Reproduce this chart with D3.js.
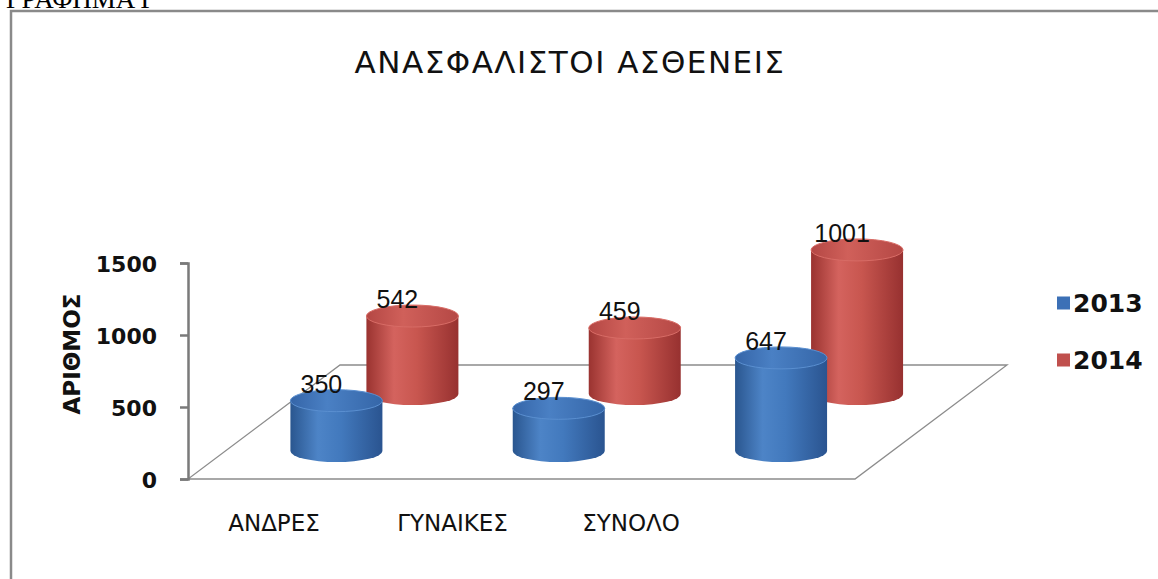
<!DOCTYPE html>
<html>
<head>
<meta charset="utf-8">
<script src="https://cdn.jsdelivr.net/npm/d3@7"></script>
<style>
	body { margin: 0; background: #fff; }
	svg { display: block; }
	.tick text { font-family: "DejaVu Sans", sans-serif; font-weight: bold; font-size: 22px; fill: #111; }
</style>
</head>
<body>
<svg id="chart" width="1158" height="579"></svg>
<script>
var categories = ["ΑΝΔΡΕΣ", "ΓΥΝΑΙΚΕΣ", "ΣΥΝΟΛΟ"];
var seriesNames = ["2013", "2014"];
var values2013 = [350, 297, 647];
var values2014 = [542, 459, 1001];
var yTicks = [0, 500, 1000, 1500];
var seriesColours = ["#3c70b6", "#c0504d"];

var svg = d3.select("#chart");

//page heading, mostly cut off at the top (as in the scanned page)
svg.append("text")
	.attr("x", 6).attr("y", 8)
	.attr("font-family", "Liberation Serif, serif")
	.attr("font-size", 27)
	.attr("fill", "#000")
	.text("ΓΡΑΦΗΜΑ Γ");

//chart frame (runs off the right and bottom edge)
svg.append("rect")
	.attr("x", 11).attr("y", 11)
	.attr("width", 1160).attr("height", 580)
	.attr("fill", "#fff")
	.attr("stroke", "#8a8a8a")
	.attr("stroke-width", 2.5);

var x = d3.scaleBand().domain(categories).range([188, 855]),
	y = d3.scaleLinear().domain([0, 1500]).range([479, 263]),
	//depth of each series row on the floor (0 = front, 1 = back)
	row = d3.scalePoint().domain(seriesNames).range([0.245, 0.745]),
	depthX = 152, depthY = -114,
	labelX = d3.scalePoint().domain(categories).range([274, 631]);

var defs = svg.append("defs");
function addGradient(id, stops){
	var g = defs.append("linearGradient").attr("id", id)
		.attr("x1", "0%").attr("x2", "100%").attr("y1", "0%").attr("y2", "0%");
	stops.forEach(function(s){
		g.append("stop").attr("offset", s[0]).attr("stop-color", s[1]);
	});
}
addGradient("body0", [["0%", "#2a568f"], ["30%", "#4d84c7"], ["55%", "#4279bd"], ["100%", "#2a5490"]]);
addGradient("top0", [["0%", "#3565a8"], ["40%", "#4a80c4"], ["100%", "#3566a8"]]);
addGradient("body1", [["0%", "#9a3330"], ["30%", "#d4635e"], ["55%", "#c8564f"], ["100%", "#973130"]]);
addGradient("top1", [["0%", "#b44744"], ["40%", "#d0605a"], ["100%", "#b54845"]]);

//floor
var y0 = y(0), xl = x.range()[0], xr = x.range()[1];
svg.append("path")
	.attr("d", "M" + xl + "," + y0 + "L" + xr + "," + y0 +
		"L" + (xr + depthX) + "," + (y0 + depthY) +
		"L" + (xl + depthX) + "," + (y0 + depthY) + "Z")
	.attr("fill", "none")
	.attr("stroke", "#8c8c8c")
	.attr("stroke-width", 1.3);

//value axis
var axis = svg.append("g")
	.attr("transform", "translate(" + xl + ",0)")
	.call(d3.axisLeft(y).tickValues(yTicks).tickFormat(d3.format("d"))
		.tickSize(8).tickPadding(23));
axis.select(".domain").attr("stroke", "#7a7a7a").attr("stroke-width", 2.5);
axis.selectAll(".tick line").attr("stroke", "#7a7a7a").attr("stroke-width", 2.5);
axis.selectAll(".tick text").attr("dy", "0.4em");

svg.append("text")
	.attr("transform", "translate(80,354) rotate(-90)")
	.attr("text-anchor", "middle")
	.attr("font-family", "DejaVu Sans, sans-serif")
	.attr("font-weight", "bold")
	.attr("font-size", 23)
	.attr("fill", "#111")
	.text("ΑΡΙΘΜΟΣ");

//build cylinders, back row first
var rx = 46, ry = 11;
var bars = [];
[values2014, values2013].forEach(function(vals, k){
	var s = seriesNames[1 - k];
	vals.forEach(function(v, i){
		var f = row(s),
			cx = x(categories[i]) + x.bandwidth() / 2 + depthX * f,
			base = y0 + depthY * f,
			top = base - (y0 - y(v));
		bars.push({s: 1 - k, v: v, cx: cx, base: base, top: top});
	});
});

var cyl = svg.selectAll(".cyl").data(bars).enter()
	.append("g").attr("class", "cyl");
cyl.append("path")
	.attr("d", function(d){
		return "M" + (d.cx - rx) + "," + d.top + "L" + (d.cx - rx) + "," + d.base +
			"A" + rx + "," + ry + " 0 0 0 " + (d.cx + rx) + "," + d.base +
			"L" + (d.cx + rx) + "," + d.top + "Z";
	})
	.attr("fill", function(d){ return "url(#body" + d.s + ")"; });
cyl.append("ellipse")
	.attr("cx", function(d){ return d.cx; })
	.attr("cy", function(d){ return d.top; })
	.attr("rx", rx).attr("ry", ry)
	.attr("fill", function(d){ return "url(#top" + d.s + ")"; })
	.attr("stroke", function(d){ return d.s ? "#d86c66" : "#5a8fd0"; })
	.attr("stroke-width", 1);

//value labels
svg.selectAll(".vlabel").data(bars).enter()
	.append("text").attr("class", "vlabel")
	.attr("x", function(d){ return d.cx - 15; })
	.attr("y", function(d){ return d.top - 8; })
	.attr("text-anchor", "middle")
	.attr("font-family", "Liberation Sans, Arial, sans-serif")
	.attr("font-size", 25)
	.attr("fill", "#111")
	.text(function(d){ return d.v; });

//category labels
svg.selectAll(".clabel").data(categories).enter()
	.append("text").attr("class", "clabel")
	.attr("x", function(d){ return labelX(d); })
	.attr("y", 531)
	.attr("text-anchor", "middle")
	.attr("font-family", "DejaVu Sans, sans-serif")
	.attr("font-size", 23)
	.attr("fill", "#111")
	.text(function(d){ return d; });

//title
svg.append("text")
	.attr("x", 570).attr("y", 73)
	.attr("text-anchor", "middle")
	.attr("font-family", "DejaVu Sans, sans-serif")
	.attr("font-size", 31)
	.attr("letter-spacing", 1.5)
	.attr("fill", "#111")
	.text("ΑΝΑΣΦΑΛΙΣΤΟΙ ΑΣΘΕΝΕΙΣ");

//legend
var legend = svg.selectAll(".legend").data(seriesNames).enter()
	.append("g").attr("class", "legend")
	.attr("transform", function(d, i){ return "translate(1057," + (303 + i * 57) + ")"; });
legend.append("rect")
	.attr("x", 0).attr("y", -6.5).attr("width", 13).attr("height", 13)
	.attr("fill", function(d, i){ return seriesColours[i]; });
legend.append("text")
	.attr("x", 16).attr("y", 0).attr("dy", "0.36em")
	.attr("font-family", "DejaVu Sans, sans-serif")
	.attr("font-weight", "bold")
	.attr("font-size", 25)
	.attr("fill", "#111")
	.text(function(d){ return d; });
</script>
</body>
</html>
